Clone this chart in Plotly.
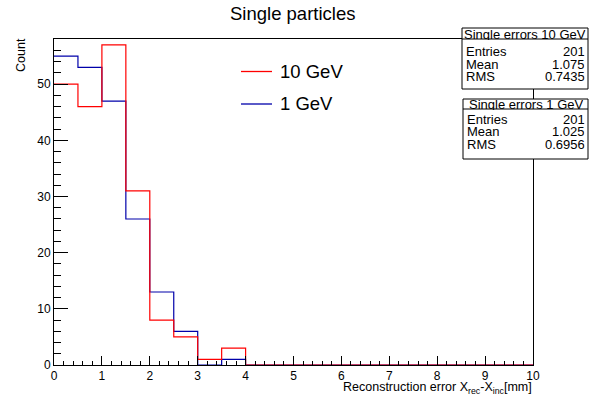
import plotly.graph_objects as go

# ---- data ----
bin_edges = [i * 0.5 for i in range(21)]
counts_10gev = [50, 46, 57, 31, 8, 5, 1, 3, 0, 0, 0, 0, 0, 0, 0, 0, 0, 0, 0, 0]
counts_1gev = [55, 53, 47, 26, 13, 6, 0, 1, 0, 0, 0, 0, 0, 0, 0, 0, 0, 0, 0, 0]
series_names = ["10 GeV", "1 GeV"]
stats_titles = ["Single errors 10 GeV", "Single errors 1 GeV"]
stats_entries = ["201", "201"]
stats_means = ["1.075", "1.025"]
stats_rms = ["0.7435", "0.6956"]

RED = "#ff0000"
BLUE = "#0000aa"
FONT = "Liberation Sans, Arial, sans-serif"

W, H = 592, 403
L, R, T, B = 54, 533, 39, 365


def px(X):
    return (X - L) / (R - L)


def py(Y):
    return (B - Y) / (B - T)


fig = go.Figure()
fig.add_trace(go.Scatter(x=bin_edges, y=counts_1gev + [counts_1gev[-1]], mode="lines",
                         line=dict(shape="hv", color=BLUE, width=1.2), name=series_names[1],
                         showlegend=False, hoverinfo="skip"))
fig.add_trace(go.Scatter(x=bin_edges, y=counts_10gev + [counts_10gev[-1]], mode="lines",
                         line=dict(shape="hv", color=RED, width=1.2), name=series_names[0],
                         showlegend=False, hoverinfo="skip"))

axis_common = dict(showgrid=False, zeroline=False, showline=True, linecolor="black", linewidth=1,
                   mirror=True, ticks="inside", tickcolor="black", tickwidth=1,
                   tickfont=dict(family=FONT, size=12, color="black"))
fig.update_xaxes(range=[0, 10], dtick=1, tick0=0, ticklen=9,
                 minor=dict(dtick=0.2, ticks="inside", ticklen=4.5, tickcolor="black", tickwidth=1),
                 **axis_common)
fig.update_yaxes(range=[0, 58.05], dtick=10, tick0=0, ticklen=14,
                 minor=dict(dtick=2, ticks="inside", ticklen=7, tickcolor="black", tickwidth=1),
                 **axis_common)

shapes = []
annotations = []

# title
annotations.append(dict(text="Single particles", x=px(292), y=py(13), xref="paper", yref="paper",
                        showarrow=False, xanchor="center", yanchor="middle",
                        font=dict(family=FONT, size=18.5, color="black")))
# axis titles
annotations.append(dict(text="Reconstruction error X<sub>rec</sub>-X<sub>inc</sub>[mm]",
                        x=px(534), y=py(388), xref="paper", yref="paper", showarrow=False,
                        xanchor="right", yanchor="middle",
                        font=dict(family=FONT, size=12.5, color="black")))
annotations.append(dict(text="Count", x=px(20.5), y=py(55.5), xref="paper", yref="paper",
                        showarrow=False, textangle=-90, xanchor="center", yanchor="middle",
                        font=dict(family=FONT, size=12.5, color="black")))

# legend
for name, col, yy in [(series_names[0], RED, 71.5), (series_names[1], BLUE, 104)]:
    shapes.append(dict(type="line", xref="paper", yref="paper", x0=px(241), x1=px(272),
                       y0=py(yy), y1=py(yy), line=dict(color=col, width=1.3)))
    annotations.append(dict(text=name, x=px(278), y=py(yy), xref="paper", yref="paper",
                            showarrow=False, xanchor="left", yanchor="middle",
                            font=dict(family=FONT, size=18.5, color="black")))

# stats boxes
boxes = [(462, 588, 28, 39, 89, [51, 63.5, 76]), (463, 588, 99, 109, 159, [119, 131, 143.5])]
for i, (x0, x1, y0, ydiv, y1, rows) in enumerate(boxes):
    shapes.append(dict(type="rect", xref="paper", yref="paper", x0=px(x0), x1=px(x1),
                       y0=py(y1), y1=py(y0), fillcolor="white", line=dict(color="black", width=1),
                       layer="above"))
    shapes.append(dict(type="line", xref="paper", yref="paper", x0=px(x0), x1=px(x1),
                       y0=py(ydiv), y1=py(ydiv), line=dict(color="black", width=1), layer="above"))
    annotations.append(dict(text=stats_titles[i], x=px((x0 + x1) / 2), y=py((y0 + ydiv) / 2 + 0.5),
                            xref="paper", yref="paper", showarrow=False, xanchor="center",
                            yanchor="middle", height=11, font=dict(family=FONT, size=13, color="black")))
    labels = ["Entries", "Mean", "RMS"]
    values = [stats_entries[i], stats_means[i], stats_rms[i]]
    for lab, val, ry in zip(labels, values, rows):
        annotations.append(dict(text=lab, x=px(x0 + 2), y=py(ry), xref="paper", yref="paper",
                                showarrow=False, xanchor="left", yanchor="middle", height=12,
                                font=dict(family=FONT, size=13, color="black")))
        annotations.append(dict(text=val, x=px(x1 - 1), y=py(ry), xref="paper", yref="paper",
                                showarrow=False, xanchor="right", yanchor="middle", height=12,
                                font=dict(family=FONT, size=13, color="black")))

fig.update_layout(width=W, height=H, margin=dict(l=L, r=W - R, t=T, b=H - B),
                  paper_bgcolor="white", plot_bgcolor="white", showlegend=False,
                  shapes=shapes, annotations=annotations)
fig.write_html("out.html", config={"displayModeBar": False},
               post_script="document.body.style.margin='0';")
